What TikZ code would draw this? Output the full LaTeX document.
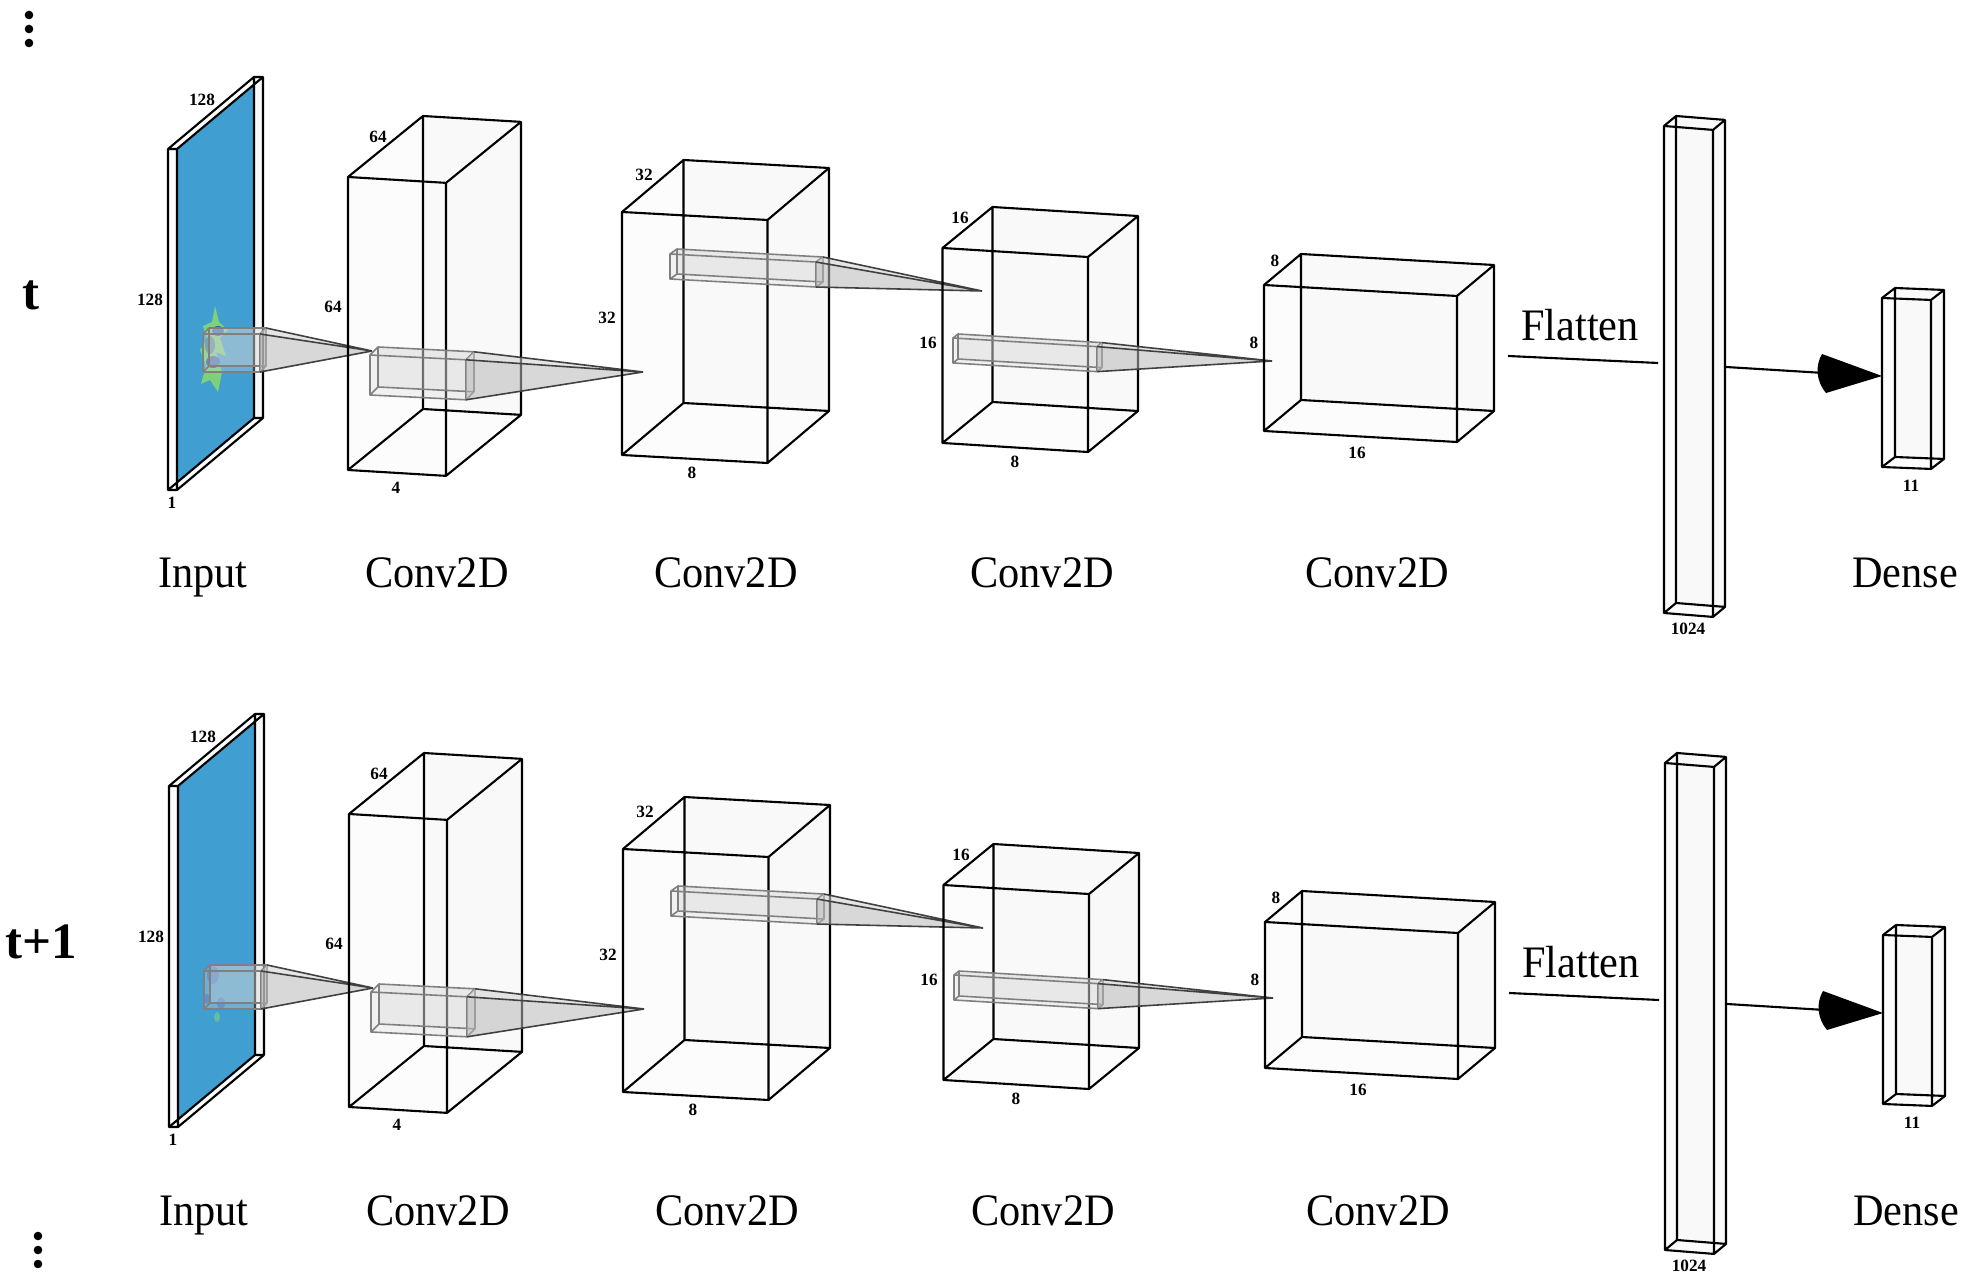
\documentclass[tikz,border=0pt]{standalone}
\usepackage{fontspec}
\setmainfont{Liberation Serif}
\newfontfamily\labfont[FakeStretch=0.94]{Liberation Serif}
\definecolor{inblue}{RGB}{66,160,212}
\definecolor{blobgreen}{RGB}{140,220,110}
\definecolor{blobdark}{RGB}{30,60,200}
\tikzset{
  boxface/.style={fill=black, fill opacity=0.012},
  boxedge/.style={draw=black, line width=0.6pt, line join=round},
  kernface/.style={fill=black!15, fill opacity=0.3},
  kernedge/.style={draw=black!50, line width=0.45pt, line join=round},
  pyrfill/.style={fill=black!28, fill opacity=0.55},
  pyrtop/.style={fill=black!18, fill opacity=0.55},
  pyredge/.style={draw=black!75, line width=0.45pt},
  lab/.style={font=\labfont\fontsize{12.8pt}{14pt}\selectfont, anchor=base, inner sep=0pt},
  dimlab/.style={font=\bfseries\fontsize{4.9pt}{6pt}\selectfont, inner sep=0pt},
  steplab/.style={font=\bfseries\fontsize{14.5pt}{16pt}\selectfont, inner sep=0pt},
  conn/.style={draw=black, line width=0.6pt}
}
% #1 name, #2 x0, #3 y0, #4 w, #5 h, #6 dx, #7 dy, #8 slope, #9 style prefix
\newcommand\cuboid[9]{%
  \coordinate (#1-ftl) at (#2,#3);
  \coordinate (#1-ftr) at ({#2+#4},{#3+#8*#4});
  \coordinate (#1-fbl) at (#2,{#3+#5});
  \coordinate (#1-fbr) at ({#2+#4},{#3+#5+#8*#4});
  \coordinate (#1-btl) at ({#2+(#6)},{#3+(#7)});
  \coordinate (#1-btr) at ({#2+#4+(#6)},{#3+(#7)+#8*#4});
  \coordinate (#1-bbl) at ({#2+(#6)},{#3+#5+(#7)});
  \coordinate (#1-bbr) at ({#2+#4+(#6)},{#3+#5+(#7)+#8*#4});
  \fill[#9face] (#1-btl)--(#1-btr)--(#1-bbr)--(#1-bbl)--cycle;
  \fill[#9face] (#1-ftl)--(#1-ftr)--(#1-btr)--(#1-btl)--cycle;
  \fill[#9face] (#1-ftr)--(#1-btr)--(#1-bbr)--(#1-fbr)--cycle;
  \fill[#9face] (#1-ftl)--(#1-ftr)--(#1-fbr)--(#1-fbl)--cycle;
  \draw[#9edge] (#1-btl)--(#1-btr)--(#1-bbr)--(#1-bbl)--cycle
    (#1-ftl)--(#1-ftr)--(#1-fbr)--(#1-fbl)--cycle
    (#1-ftl)--(#1-btl) (#1-ftr)--(#1-btr) (#1-fbl)--(#1-bbl) (#1-fbr)--(#1-bbr);
}
% pyramid from right face of kernel #1 to tip #2
\newcommand\pyramid[2]{%
  \fill[pyrtop] (#1-btr)--(#1-ftr)--(#2)--cycle;
  \fill[pyrfill] (#1-ftr)--(#1-fbr)--(#2)--cycle;
  \draw[pyredge] (#1-btr)--(#2) (#1-ftr)--(#2) (#1-fbr)--(#2);
}
\newcommand\netrow[2]{%
  % input slab
  \fill[inblue] (177,150)--(254,85)--(254,418)--(177,482.5)--cycle;
  #2
  \cuboid{#1in}{168}{149}{9}{341}{86}{-72}{0}{box}
  % input kernel and pyramid
  \coordinate (#1t0) at (372,351);
  \cuboid{#1k0}{203}{334}{57}{38}{6}{-6}{0}{kern}
  \pyramid{#1k0}{#1t0}
  % conv 1
  \cuboid{#1c1}{348}{177}{98}{293}{75}{-61}{0.06}{box}
  \coordinate (#1t1) at (643,372);
  \cuboid{#1k1}{370}{355}{96}{40}{8}{-8}{0.05}{kern}
  \pyramid{#1k1}{#1t1}
  % conv 2
  \cuboid{#1c2}{622}{212}{145.5}{243}{61.5}{-52}{0.055}{box}
  \coordinate (#1t2) at (982,291);
  \cuboid{#1k2}{670}{254}{146}{25}{7}{-5}{0.055}{kern}
  \pyramid{#1k2}{#1t2}
  % conv 3
  \cuboid{#1c3}{942.5}{248}{145.5}{195}{50}{-41}{0.062}{box}
  \coordinate (#1t3) at (1272,361);
  \cuboid{#1k3}{953}{338}{144}{25}{5}{-4}{0.06}{kern}
  \pyramid{#1k3}{#1t3}
  % conv 4
  \cuboid{#1c4}{1264}{285}{193}{146}{37}{-31}{0.057}{box}
  % dense 1024 and dense 11
  \cuboid{#1d1}{1664}{126}{49}{487}{12}{-10}{0.08}{box}
  \cuboid{#1d2}{1882}{298}{49}{169}{13}{-10}{0.04}{box}
  % flatten connector
  \coordinate (#1fa) at (1508,356);
  \coordinate (#1fb) at (1658,363);
  \draw[conn] (#1fa)--(#1fb);
  % dense connector with cone head
  \coordinate (#1da) at (1726,367);
  \coordinate (#1db) at (1882,376);
  \coordinate (#1h1) at (1822,354);
  \coordinate (#1h2) at (1826,393);
  \draw[conn] (#1da)--(1824,373);
  \fill[black] (#1h1)--(#1db)--(#1h2) .. controls (1816,381) and (1815,366) .. (#1h1)--cycle;
  % dimension labels
  \node[dimlab] (#1n1) at (202,100) {128};
  \node[dimlab] (#1n2) at (150,300) {128};
  \node[dimlab] (#1n3) at (172,503) {1};
  \node[dimlab] (#1n4) at (378,137) {64};
  \node[dimlab] (#1n5) at (333,307) {64};
  \node[dimlab] (#1n6) at (396,488) {4};
  \node[dimlab] (#1n7) at (644,175) {32};
  \node[dimlab] (#1n8) at (607,318) {32};
  \node[dimlab] (#1n9) at (692,473) {8};
  \node[dimlab] (#1n10) at (960,218) {16};
  \node[dimlab] (#1n11) at (928,343) {16};
  \node[dimlab] (#1n12) at (1015,462) {8};
  \node[dimlab] (#1n13) at (1275,261) {8};
  \node[dimlab] (#1n14) at (1254,343) {8};
  \node[dimlab] (#1n15) at (1357,453) {16};
  \node[dimlab] (#1n16) at (1688,629) {1024};
  \node[dimlab] (#1n17) at (1911,486) {11};
  % layer names
  \node[lab] (#1L1) at (203,588) {Input};
  \node[lab] (#1L2) at (437,588) {Conv2D};
  \node[lab] (#1L3) at (726,588) {Conv2D};
  \node[lab] (#1L4) at (1042,588) {Conv2D};
  \node[lab] (#1L5) at (1377,588) {Conv2D};
  \node[lab] (#1L6) at (1905,588) {Dense};
  \node[lab] (#1L7) at (1580,341) {Flatten};
}
\begin{document}
\begin{tikzpicture}[x=0.01cm,y=-0.01cm]
\useasboundingbox[fill=white] (0,0) rectangle (1982,1286);
\netrow{a}{%
  \fill[blobgreen, opacity=0.85] (215,306) -- (219,322) -- (228,330) -- (220,338) -- (226,356) -- (216,352) -- (222,372) -- (218,392) -- (210,380) -- (201,384) -- (206,366) -- (200,350) -- (207,340) -- (203,326) -- (212,322) -- cycle;
  \fill[blobdark, opacity=0.75] (218,331) ellipse (6 and 5);
  \fill[blobdark, opacity=0.7] (213,362) ellipse (7 and 6);
  \fill[blobdark, opacity=0.45] (210,345) ellipse (5 and 9);
}
\begin{scope}[shift={(1,637)}]
\netrow{b}{%
  \fill[blobdark, opacity=0.35] (212,338) ellipse (6 and 9);
  \fill[blobdark, opacity=0.45] (206,362) ellipse (4 and 5);
  \fill[blobdark, opacity=0.4] (220,366) ellipse (4 and 6);
  \fill[blobgreen, opacity=0.5] (216,380) ellipse (3 and 5);
}
\end{scope}
% time labels
\node[steplab] (tlab) at (31,295) {t};
\node[steplab] (t1lab) at (41,942) {t+1};
% ellipsis dots
\fill (29,15) circle (4.3) (29,29) circle (4.3) (29,43) circle (4.3);
\fill (38,1236) circle (4.3) (38,1250) circle (4.3) (38,1264) circle (4.3);
\end{tikzpicture}
\end{document}
